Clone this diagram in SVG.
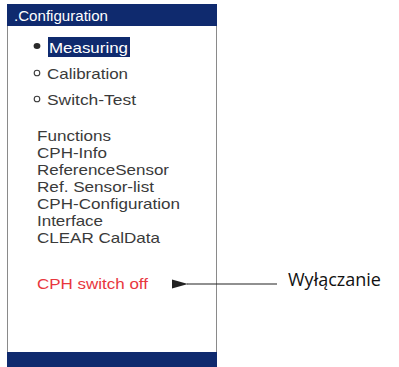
<svg xmlns="http://www.w3.org/2000/svg" width="399" height="367" viewBox="0 0 399 367">
  <style>
    .menu { font-family: "Liberation Sans", Arial, sans-serif; font-size: 15px; fill: #3a3a3a; }
    .sel { fill: #ffffff; }
    .title { font-family: "Liberation Sans", Arial, sans-serif; font-size: 14px; fill: #ffffff; }
    .off { fill: #e8363d; }
    .note { font-family: "Open Sans", "Noto Sans", sans-serif; font-size: 18px; fill: #111111; }
    .band { fill: #0f2a6e; }
    .frame { fill: #ffffff; stroke: #8a8a8a; stroke-width: 1; }
    .ring { fill: none; stroke: #3a3a3a; stroke-width: 1.1; }
    .conn { stroke: #222222; stroke-width: 1.1; fill: none; }
  </style>
  <defs>
    <marker id="arrowhead" markerWidth="16" markerHeight="10" refX="1" refY="5" orient="auto" markerUnits="userSpaceOnUse">
      <path d="M16,0.5 L0,5 L16,9.5 Z" fill="#222222"/>
    </marker>
  </defs>

  <rect width="399" height="367" fill="#ffffff"/>

  <!-- menu panel: menu text is set at 15px and stretched to the wide device font -->
  <g id="panel">
    <rect class="frame" x="7.5" y="4.5" width="209" height="370"/>
    <rect class="band" x="7" y="4" width="210" height="22"/>
    <text class="title" x="14" y="20.5" textLength="94" lengthAdjust="spacingAndGlyphs">.Configuration</text>

    <ellipse cx="37" cy="46" rx="3.4" ry="3" fill="#2a2a2a"/>
    <rect class="band" x="48" y="37" width="82" height="20"/>
    <text class="menu sel" x="49" y="52.5" textLength="79" lengthAdjust="spacingAndGlyphs">Measuring</text>

    <circle class="ring" cx="37" cy="73" r="2.8"/>
    <text class="menu" x="47" y="78.5" textLength="81" lengthAdjust="spacingAndGlyphs">Calibration</text>

    <circle class="ring" cx="37" cy="99" r="2.8"/>
    <text class="menu" x="47" y="104.5" textLength="89" lengthAdjust="spacingAndGlyphs">Switch-Test</text>

    <text class="menu" x="37" y="141" textLength="74" lengthAdjust="spacingAndGlyphs">Functions</text>
    <text class="menu" x="37" y="158" textLength="70" lengthAdjust="spacingAndGlyphs">CPH-Info</text>
    <text class="menu" x="37" y="175" textLength="132" lengthAdjust="spacingAndGlyphs">ReferenceSensor</text>
    <text class="menu" x="37" y="192" textLength="117" lengthAdjust="spacingAndGlyphs">Ref. Sensor-list</text>
    <text class="menu" x="37" y="209" textLength="143" lengthAdjust="spacingAndGlyphs">CPH-Configuration</text>
    <text class="menu" x="37" y="226" textLength="66" lengthAdjust="spacingAndGlyphs">Interface</text>
    <text class="menu" x="37" y="243" textLength="123" lengthAdjust="spacingAndGlyphs">CLEAR CalData</text>

    <text class="menu off" x="37" y="289" textLength="111" lengthAdjust="spacingAndGlyphs">CPH switch off</text>

    <rect class="band" x="7" y="352" width="210" height="15"/>
  </g>

  <!-- connectors -->
  <g id="connectors">
    <line class="conn" x1="277" y1="284" x2="187" y2="284" marker-end="url(#arrowhead)"/>
  </g>

  <g id="label-off">
    <text class="note" x="288" y="286">Wyłączanie</text>
  </g>
</svg>
